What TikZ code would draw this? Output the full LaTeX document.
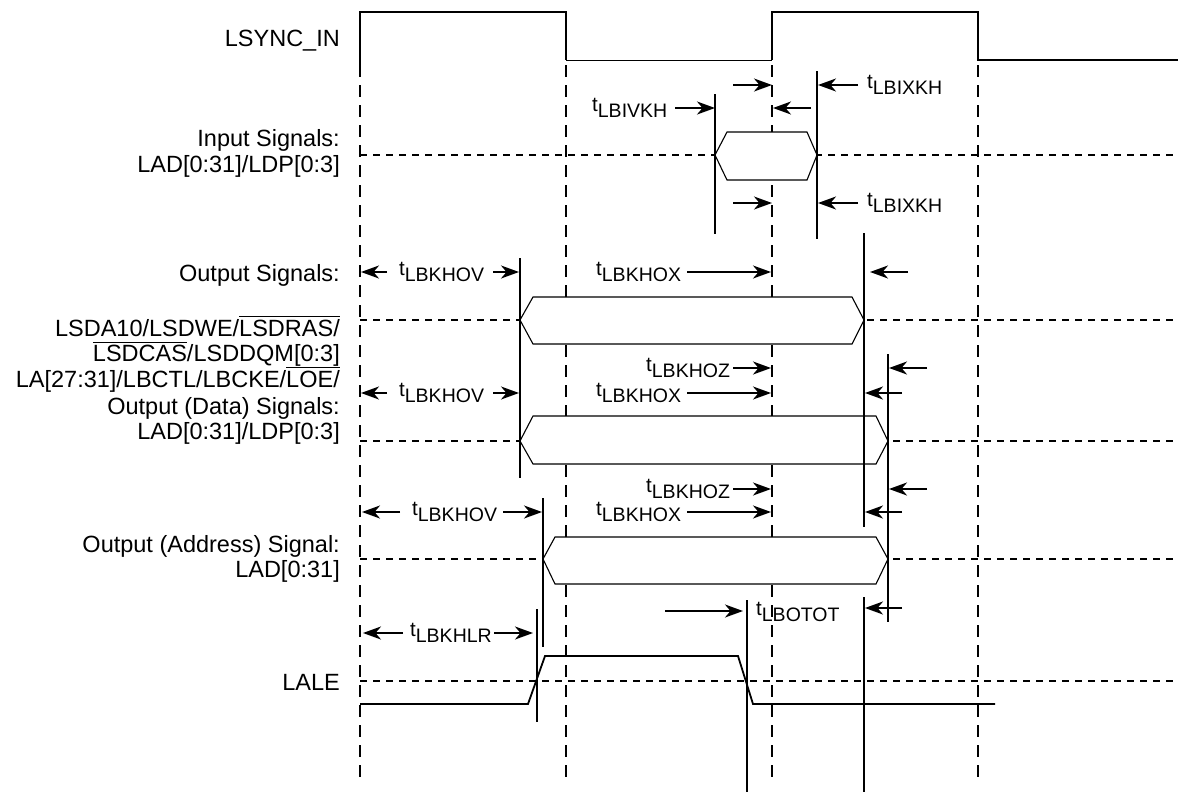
\documentclass[tikz,border=0pt]{standalone}
\usepackage{fontspec}
\setmainfont{Liberation Sans}
\usetikzlibrary{arrows.meta}
\newcommand\ovl[1]{\setbox0\hbox{#1}\makebox[0pt][l]{\raisebox{\dimexpr\ht0+2pt\relax}{\rule{\wd0}{1.2pt}}}\copy0}
\newcommand\tsub[1]{{\fontsize{20.5}{21}\selectfont t}\raisebox{-6.5pt}{#1}}
\begin{document}
\begin{tikzpicture}[x=1pt,y=-1pt,
  lab/.style={anchor=east,inner sep=0pt,align=right,font=\fontsize{23.5}{25.5}\selectfont},
  tlab/.style={anchor=west,inner sep=0pt,font=\fontsize{19.5}{20}\selectfont},
  wave/.style={line width=1.8pt},
  thinwave/.style={line width=1pt},
  bus/.style={line width=1.1pt,fill=white},
  clk/.style={line width=1.8pt,dash pattern=on 12pt off 8pt},
  lvl/.style={line width=1.4pt,dash pattern=on 7pt off 6pt},
  vline/.style={line width=1.8pt},
  arr/.style={line width=1.9pt,-{Stealth[length=18pt,width=13pt,inset=5.5pt]}}]
\useasboundingbox (0,0) rectangle (1178,793);
% level lines
\foreach \y in {155,320,441,559,681} \draw[lvl] (360,\y) -- (1178,\y);
% clock edge lines
\foreach \x in {360,566,772,978} \draw[clk] (\x,65) -- (\x,780);
% buses
\draw[bus] (715,155) -- (727,132) -- (807,132) -- (817,155) -- (807,180) -- (727,180) -- cycle;
\draw[bus] (520,320) -- (533,297) -- (852,297) -- (864,320) -- (852,344) -- (533,344) -- cycle;
\draw[bus] (520,441) -- (533,416) -- (876,416) -- (888,441) -- (876,464) -- (533,464) -- cycle;
\draw[bus] (543,559) -- (555,537) -- (876,537) -- (888,559) -- (876,584) -- (555,584) -- cycle;
% LSYNC_IN
\draw[wave] (360,65) -- (360,12) -- (566,12) -- (566,60);
\draw[thinwave] (566,60) -- (772,60);
\draw[wave] (772,60) -- (772,12) -- (978,12) -- (978,60) -- (1178,60);
% LALE
\draw[wave] (360,704) -- (528,704) -- (545,656) -- (738,656) -- (753,704) -- (995,704);
% timing reference lines
\draw[vline] (715,94) -- (715,234);
\draw[vline] (817,71) -- (817,239);
\draw[vline] (520,258) -- (520,478);
\draw[vline] (864,233) -- (864,527);
\draw[vline] (864,597) -- (864,792);
\draw[vline] (888,354) -- (888,622);
\draw[vline] (543,498) -- (543,647);
\draw[vline] (537,609) -- (537,722);
\draw[vline] (747,600) -- (747,792);
% input arrows
\draw[arr] (733,85) -- (772,85);
\draw[arr] (811,108) -- (773,108);
\draw[arr] (858,85) -- (818,85);
\draw[arr] (675,108) -- (715,108);
\draw[arr] (733,203) -- (772,203);
\draw[arr] (858,203) -- (818,203);
% output signals arrows
\draw[arr] (387,272) -- (361,272);
\draw[arr] (493,272) -- (519,272);
\draw[arr] (687,272) -- (771,272);
\draw[arr] (908,272) -- (870,272);
% data arrows
\draw[arr] (733,368) -- (771,368);
\draw[arr] (927,368) -- (889,368);
\draw[arr] (687,393) -- (771,393);
\draw[arr] (902,393) -- (865,393);
\draw[arr] (387,393) -- (361,393);
\draw[arr] (493,393) -- (519,393);
% address arrows
\draw[arr] (733,489) -- (771,489);
\draw[arr] (927,489) -- (889,489);
\draw[arr] (687,512) -- (771,512);
\draw[arr] (902,512) -- (865,512);
\draw[arr] (400,512) -- (362,512);
\draw[arr] (503,512) -- (542,512);
% LALE arrows
\draw[arr] (403,633) -- (363,633);
\draw[arr] (494,633) -- (533,633);
\draw[arr] (665,611) -- (743,611);
\draw[arr] (902,608) -- (865,608);
% timing labels
\node[tlab] (ivkh) at (592,108) {\tsub{LBIVKH}};
\node[tlab] (ixkh1) at (867,85) {\tsub{LBIXKH}};
\node[tlab] (ixkh2) at (867,203) {\tsub{LBIXKH}};
\node[tlab] (hov1) at (399,272) {\tsub{LBKHOV}};
\node[tlab] (hox1) at (596,272) {\tsub{LBKHOX}};
\node[tlab] (hoz1) at (646,368) {\tsub{LBKHOZ}};
\node[tlab] (hov2) at (399,393) {\tsub{LBKHOV}};
\node[tlab] (hox2) at (596,393) {\tsub{LBKHOX}};
\node[tlab] (hoz2) at (646,489) {\tsub{LBKHOZ}};
\node[tlab] (hov3) at (412,512) {\tsub{LBKHOV}};
\node[tlab] (hox3) at (596,512) {\tsub{LBKHOX}};
\node[tlab] (hlr) at (410,633) {\tsub{LBKHLR}};
\node[tlab] (otot) at (756,612) {\tsub{LBOTOT}};
% signal labels
\node[lab] (lsync) at (340,41) {LSYNC\_IN};
\node[lab] (inp) at (340,153.5) {Input Signals:\\LAD[0:31]/LDP[0:3]};
\node[lab] (outs) at (340,275) {Output Signals:};
\node[lab] (outsig) at (340,354) {LSDA10/LSDWE/\ovl{LSDRAS/}\\\ovl{LSDCAS}/LSDDQM[0:3]\\LA[27:31]/LBCTL/LBCKE/\ovl{LOE/}};
\node[lab] (outd) at (340,421) {Output (Data) Signals:\\LAD[0:31]/LDP[0:3]};
\node[lab] (outa) at (340,559) {Output (Address) Signal:\\LAD[0:31]};
\node[lab] (lale) at (340,682) {LALE};
\end{tikzpicture}
\end{document}
